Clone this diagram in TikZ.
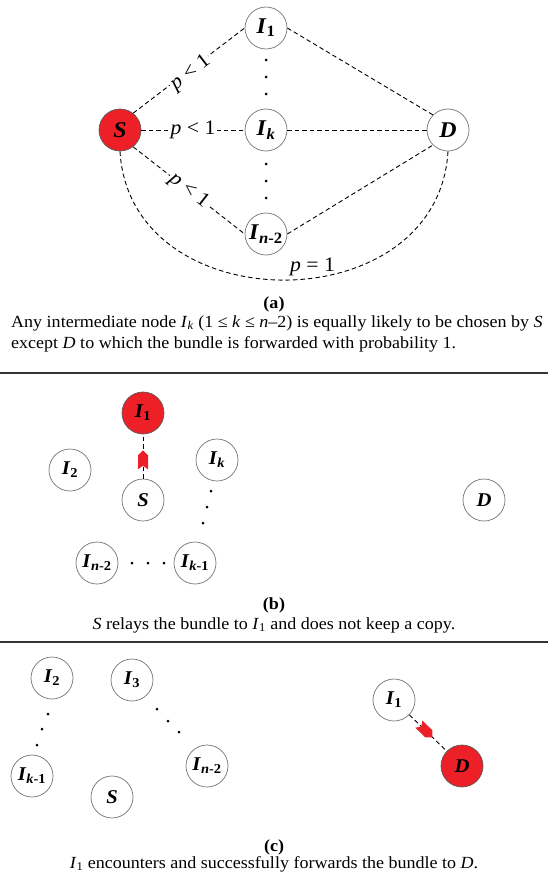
\documentclass[tikz,border=0pt]{standalone}
\usepackage{fontspec}
\setmainfont[FakeStretch=1.06]{Liberation Serif}
\definecolor{nodered}{RGB}{236,32,38}
\newcommand{\bi}[1]{\textbf{\textit{#1}}}
\newcommand{\nlab}[2]{\bi{#1}\textsubscript{\textbf{#2}}}
\begin{document}
\begin{tikzpicture}[x=1pt,y=-1pt,
  nd/.style={circle,draw=black!55,line width=0.7pt,minimum size=42pt,inner sep=0pt,fill=white},
  ndred/.style={nd,fill=nodered,draw=black!65},
  lfa/.style={font=\fontsize{22.5}{24}\selectfont},
  lfb/.style={font=\fontsize{19.5}{22}\selectfont},
  link/.style={draw=black,line width=0.9pt,dash pattern=on 4.5pt off 3pt},
  dotn/.style={circle,fill=black,inner sep=0pt,minimum size=3pt},
  plab/.style={fill=white,inner sep=1.5pt,font=\fontsize{20.5}{22}\selectfont,sloped},
  captxt/.style={font=\fontsize{17}{19}\selectfont,inner sep=0pt},
  captag/.style={font=\fontsize{17}{19}\selectfont\bfseries,inner sep=0pt},
  seprule/.style={line width=1.6pt,draw=black!80},
  redarrow/.pic={\fill[nodered,solid] (0,0) -- (-5,5) -- (-19,5) -- (-15.5,0) -- (-19,-5) -- (-5,-5) -- cycle;}
]
\useasboundingbox (0,0) rectangle (548,880);
% ---------- panel (a) ----------
\node[ndred,lfa] (aS) at (120,130) {\bi{S}};
\node[nd,lfa] (aI1) at (266,28) {\nlab{I}{1}};
\node[nd,lfa] (aIk) at (266,130) {\nlab{I}{\textit{k}}};
\node[nd,lfa] (aIn) at (266,234) {\nlab{I}{\textit{n}-2}};
\node[nd,lfa] (aD) at (448,130) {\bi{D}};
\node[dotn] (ad1) at (266,60) {};
\node[dotn] (ad2) at (266,77) {};
\node[dotn] (ad3) at (266,94) {};
\node[dotn] (ad4) at (266,164) {};
\node[dotn] (ad5) at (266,181) {};
\node[dotn] (ad6) at (266,198) {};
\draw[link] (aS.52) -- node[plab,yshift=-3pt] {\textit{p} < 1} (aI1.west);
\draw[link] (aS) -- node[plab] {\textit{p} < 1} (aIk);
\draw[link] (aS.-52) -- node[plab] {\textit{p} < 1} (aIn.west);
\draw[link] (aI1.east) -- (aD.135);
\draw[link] (aIk) -- (aD);
\draw[link] (aIn.east) -- (aD.-135);
\draw[link] (aS.-90) .. controls (130,323) and (438,323) .. node[pos=0.56,above=2pt,font=\fontsize{20.5}{22}\selectfont,inner sep=0pt] (aplab) {\textit{p} = 1} (aD.-90);
\node[captag,anchor=base] (atag) at (274,308) {(a)};
\node[captxt,anchor=base west] (acap1) at (11,327) {Any intermediate node \textit{I}\textsubscript{\textit{k}} (1 ≤ \textit{k} ≤ \textit{n}–2) is equally likely to be chosen by \textit{S}};
\node[captxt,anchor=base west] (acap2) at (11,348) {except \textit{D} to which the bundle is forwarded with probability 1.};
\coordinate (r1a) at (0,373);
\coordinate (r1b) at (548,373);
\draw[seprule] (r1a) -- (r1b);
% ---------- panel (b) ----------
\node[ndred,lfb] (bI1) at (143,413) {\nlab{I}{1}};
\node[nd,lfb] (bI2) at (70,470) {\nlab{I}{2}};
\node[nd,lfb] (bIk) at (217,460) {\nlab{I}{\textit{k}}};
\node[nd,lfb] (bS) at (143,500) {\bi{S}};
\node[nd,lfb] (bIn) at (97,563) {\nlab{I}{\textit{n}-2}};
\node[nd,lfb] (bIk1) at (195,563) {\nlab{I}{\textit{k}-1}};
\node[nd,lfb] (bD) at (484,500) {\bi{D}};
\node[dotn] (bd1) at (211,491) {};
\node[dotn] (bd2) at (207,507) {};
\node[dotn] (bd3) at (203,523) {};
\node[dotn] (bd4) at (132,563) {};
\node[dotn] (bd5) at (148,563) {};
\node[dotn] (bd6) at (164,563) {};
\draw[link] (bS) -- pic[pos=0.64,sloped] {redarrow} (bI1);
\node[captag,anchor=base] (btag) at (274,609) {(b)};
\node[captxt,anchor=base] (bcap) at (274,629) {\textit{S} relays the bundle to \textit{I}\textsubscript{1} and does not keep a copy.};
\coordinate (r2a) at (0,642);
\coordinate (r2b) at (548,642);
\draw[seprule] (r2a) -- (r2b);
% ---------- panel (c) ----------
\node[nd,lfb] (cI2) at (52,678) {\nlab{I}{2}};
\node[nd,lfb] (cI3) at (132,680) {\nlab{I}{3}};
\node[nd,lfb] (cIk1) at (32,776) {\nlab{I}{\textit{k}-1}};
\node[nd,lfb] (cS) at (112,797) {\bi{S}};
\node[nd,lfb] (cIn) at (207,766) {\nlab{I}{\textit{n}-2}};
\node[nd,lfb] (cI1) at (394,700) {\nlab{I}{1}};
\node[ndred,lfb] (cD) at (462,766) {\bi{D}};
\node[dotn] (cd1) at (48,714) {};
\node[dotn] (cd2) at (42,729) {};
\node[dotn] (cd3) at (37,745) {};
\node[dotn] (cd4) at (157,709) {};
\node[dotn] (cd5) at (168,721) {};
\node[dotn] (cd6) at (179,732) {};
\draw[link] (cI1) -- pic[pos=0.62,sloped] {redarrow} (cD);
\node[captag,anchor=base] (ctag) at (274,851) {(c)};
\node[captxt,anchor=base] (ccap) at (274,868) {\textit{I}\textsubscript{1} encounters and successfully forwards the bundle to \textit{D}.};
\end{tikzpicture}
\end{document}
